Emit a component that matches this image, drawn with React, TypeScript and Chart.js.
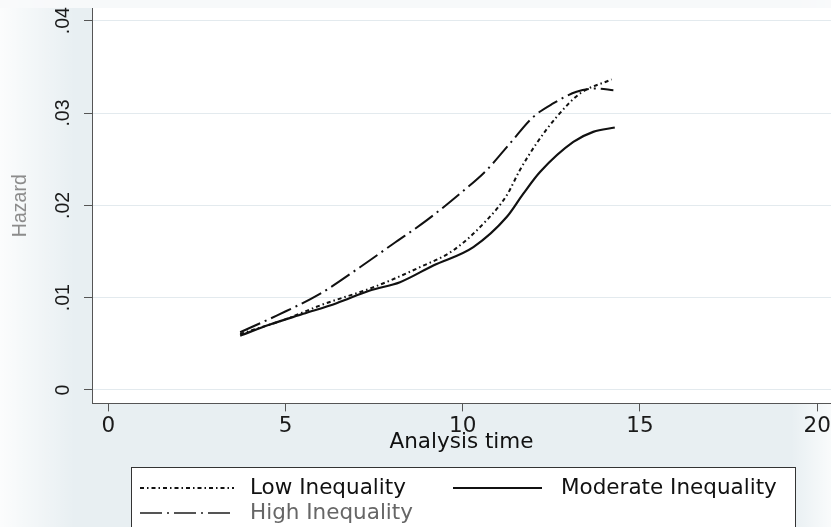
import React, { useEffect, useRef } from "react";
import { Chart, registerables } from "chart.js";

Chart.register(...registerables);

// ---- data ----
const lowT = [3.72, 5.03, 5.97, 7.48, 8.79, 9.73, 10.67, 11.24, 11.61, 12.08, 12.65, 13.31, 14.2];
const lowH = [0.00607, 0.0077, 0.00915, 0.01113, 0.0133, 0.01512, 0.01837, 0.02108, 0.0238, 0.0267, 0.02958, 0.03212, 0.03364];

const modT = [3.72, 4.56, 5.5, 6.44, 7.38, 8.23, 9.17, 10.3, 11.24, 11.71, 12.18, 13.12, 13.68, 14.29];
const modH = [0.00589, 0.00709, 0.00825, 0.0094, 0.01078, 0.01168, 0.01349, 0.01548, 0.01873, 0.02127, 0.02361, 0.02687, 0.02796, 0.02843];

const highT = [3.72, 4.75, 5.97, 7.1, 8.04, 8.98, 9.92, 10.67, 11.33, 11.99, 12.55, 13.21, 13.78, 14.25];
const highH = [0.00625, 0.00806, 0.01041, 0.0133, 0.01584, 0.01837, 0.02127, 0.0238, 0.0267, 0.02958, 0.03104, 0.0323, 0.03266, 0.03248];

const seriesLabels = ["Low Inequality", "Moderate Inequality", "High Inequality"];
const xTicks = [0, 5, 10, 15, 20];
const yTicks = [0, 0.01, 0.02, 0.03, 0.04];
const yTickLabels = ["0", ".01", ".02", ".03", ".04"];
const xTitle = "Analysis time";
const yTitle = "Hazard";

const HFONT = "'DejaVu Sans', sans-serif";
const VFONT = "'Liberation Sans', Arial, sans-serif";

const toPts = (t: number[], h: number[]) => t.map((v, i) => ({ x: v, y: h[i] }));

const bgPlugin = {
  id: "bgPlugin",
  beforeDraw(chart: any) {
    const { ctx, width, height, chartArea } = chart;
    ctx.save();
    ctx.fillStyle = "#e8eff2";
    ctx.fillRect(0, 0, width, height);
    // left glow
    let g = ctx.createLinearGradient(0, 0, 75, 0);
    g.addColorStop(0, "rgba(255,255,255,0.85)");
    g.addColorStop(1, "rgba(255,255,255,0)");
    ctx.fillStyle = g;
    ctx.fillRect(0, 0, 75, height);
    // right glow
    g = ctx.createLinearGradient(width - 40, 0, width, 0);
    g.addColorStop(0, "rgba(255,255,255,0)");
    g.addColorStop(1, "rgba(255,255,255,0.75)");
    ctx.fillStyle = g;
    ctx.fillRect(width - 40, 0, 40, height);
    // top band
    ctx.fillStyle = "rgba(248,250,251,0.9)";
    ctx.fillRect(0, 0, width, chartArea.top);
    // plot area
    ctx.fillStyle = "#ffffff";
    ctx.fillRect(chartArea.left, chartArea.top, chartArea.right - chartArea.left, chartArea.bottom - chartArea.top);
    ctx.restore();
  },
};

const legendPlugin = {
  id: "boxLegend",
  afterDraw(chart: any) {
    const { ctx } = chart;
    const ds = chart.data.datasets;
    const boxL = 131, boxT = 467, boxR = 795, boxB = 560;
    ctx.save();
    ctx.fillStyle = "#ffffff";
    ctx.fillRect(boxL, boxT, boxR - boxL, boxB - boxT);
    ctx.strokeStyle = "#333333";
    ctx.lineWidth = 1;
    ctx.strokeRect(boxL + 0.5, boxT + 0.5, boxR - boxL, boxB - boxT);
    const slots = [
      { x0: 140, x1: 234, tx: 250, y: 488 },
      { x0: 453, x1: 542, tx: 561, y: 488 },
      { x0: 140, x1: 234, tx: 250, y: 513 },
    ];
    const textColors = ["#111111", "#111111", "#666666"];
    const lineColors = ["#111111", "#111111", "#555555"];
    ds.forEach((d: any, i: number) => {
      const s = slots[i];
      ctx.beginPath();
      ctx.setLineDash(d.borderDash || []);
      ctx.strokeStyle = lineColors[i];
      ctx.lineWidth = d.borderWidth;
      ctx.moveTo(s.x0, s.y);
      ctx.lineTo(s.x1, s.y);
      ctx.stroke();
      ctx.setLineDash([]);
      ctx.fillStyle = textColors[i];
      ctx.font = `21.5px ${HFONT}`;
      ctx.textBaseline = "middle";
      ctx.textAlign = "left";
      ctx.fillText(d.label, s.tx, s.y);
    });
    ctx.restore();
  },
};

export default function App() {
  const ref = useRef<HTMLCanvasElement | null>(null);
  useEffect(() => {
    if (!ref.current) return;
    const chart = new Chart(ref.current, {
      type: "line",
      data: {
        datasets: [
          {
            label: seriesLabels[0],
            data: toPts(lowT, lowH),
            borderColor: "#111111",
            borderWidth: 2,
            borderDash: [4, 3, 1.5, 3],
            pointRadius: 0,
            cubicInterpolationMode: "monotone",
            fill: false,
          },
          {
            label: seriesLabels[1],
            data: toPts(modT, modH),
            borderColor: "#111111",
            borderWidth: 2.2,
            borderDash: [],
            pointRadius: 0,
            cubicInterpolationMode: "monotone",
            fill: false,
          },
          {
            label: seriesLabels[2],
            data: toPts(highT, highH),
            borderColor: "#111111",
            borderWidth: 2,
            borderDash: [22, 5, 2, 5],
            pointRadius: 0,
            cubicInterpolationMode: "monotone",
            fill: false,
          },
        ],
      },
      options: {
        animation: false,
        responsive: false,
        devicePixelRatio: 1,
        layout: { padding: { top: 8, left: 0, right: 0, bottom: 72 } },
        plugins: { legend: { display: false }, tooltip: { enabled: false }, title: { display: false } },
        scales: {
          x: {
            type: "linear",
            min: -0.46,
            max: 20.39,
            afterBuildTicks: (s: any) => {
              s.ticks = xTicks.map((v) => ({ value: v }));
            },
            afterFit: (s: any) => {
              s.height = 51.6;
              s.paddingLeft = 0;
              s.paddingRight = 0;
            },
            ticks: {
              autoSkip: false,
              maxRotation: 0,
              minRotation: 0,
              padding: 2,
              color: "#1a1a1a",
              font: { family: HFONT, size: 21.5 },
            },
            grid: { drawOnChartArea: false, tickLength: 8, tickColor: "#555555", lineWidth: 1 },
            border: { color: "#555555", width: 1 },
            title: {
              display: true,
              text: xTitle,
              color: "#111111",
              font: { family: HFONT, size: 21.5 },
              padding: { top: 0, bottom: 0 },
            },
          },
          y: {
            type: "linear",
            min: -0.001454,
            max: 0.04138,
            afterBuildTicks: (s: any) => {
              s.ticks = yTicks.map((v) => ({ value: v }));
            },
            afterFit: (s: any) => {
              s.width = 92;
              s.paddingTop = 0;
              s.paddingBottom = 0;
            },
            ticks: {
              autoSkip: false,
              minRotation: 90,
              maxRotation: 90,
              crossAlign: "center",
              padding: 7,
              color: "#1a1a1a",
              font: { family: VFONT, size: 19.5 },
              callback: (_v: any, i: number) => yTickLabels[i],
            },
            grid: { color: "#e3eaee", tickColor: "#555555", tickLength: 8, lineWidth: 1 },
            border: { color: "#555555", width: 1 },
            title: {
              display: true,
              text: yTitle,
              color: "#8c8c8c",
              font: { family: VFONT, size: 19.5 },
              padding: { top: 9, bottom: 0 },
            },
          },
        },
      },
      plugins: [bgPlugin, legendPlugin],
    } as any);
    return () => chart.destroy();
  }, []);
  return (
    <div style={{ position: "absolute", left: 0, top: 0, width: 831, height: 527 }}>
      <canvas ref={ref} width={831} height={527} />
    </div>
  );
}
